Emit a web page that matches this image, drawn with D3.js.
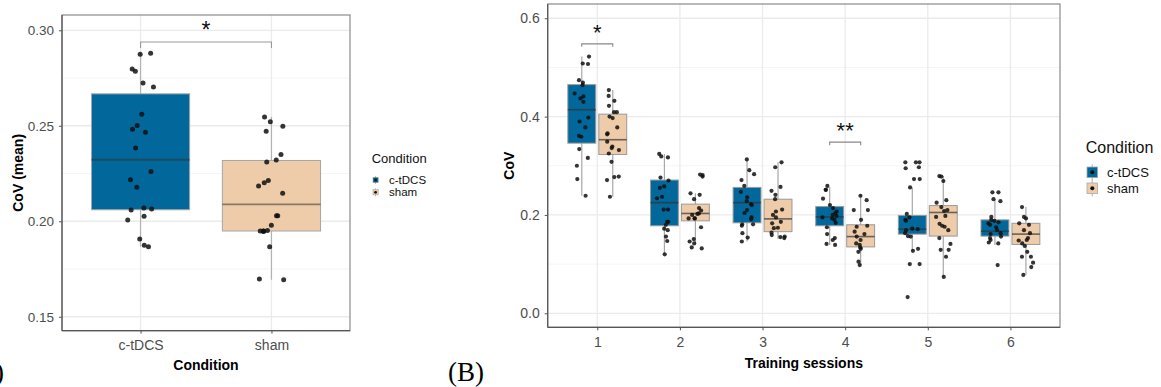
<!DOCTYPE html>
<html><head><meta charset="utf-8">
<script src="https://cdn.jsdelivr.net/npm/d3@7"></script>
<style>body{margin:0;background:#fff}svg{display:block}text{font-family:"Liberation Sans",Arial,sans-serif}</style>
</head><body><svg id="c" width="1161" height="387"></svg>
<script>
// ---------- DATA ----------
const conditions = ["c-tDCS", "sham"];
// Panel A: mean CoV per participant
const leftCategories = ["c-tDCS", "sham"];
const leftCtdcsValues = [0.2874,0.2880,0.2785,0.2797,0.2724,0.2703,0.2560,0.2501,0.2482,0.2466,0.2384,0.2260,0.2218,0.2178,0.2070,0.2059,0.2064,0.2026,0.2007,0.1907,0.1867,0.1874];
const leftShamValues = [0.2546,0.2521,0.2497,0.2471,0.2349,0.2321,0.2310,0.2213,0.2202,0.2185,0.2147,0.2029,0.2029,0.1979,0.1949,0.1948,0.1948,0.1951,0.1949,0.1867,0.1698,0.1694];
const leftYTicks = [0.15, 0.20, 0.25, 0.30];
const leftYMinor = [0.175, 0.225, 0.275];
const leftSignif = "*";

// Panel B: CoV per training session
const sessions = ["1","2","3","4","5","6"];
const rightYTicks = [0.0, 0.2, 0.4, 0.6];
const rightYMinor = [0.1, 0.3, 0.5];
// box statistics
const ctdcsLow    = [0.239,0.120,0.146,0.139,0.127,0.139];
const ctdcsQ1     = [0.346,0.178,0.184,0.178,0.161,0.157];
const ctdcsMedian = [0.414,0.225,0.225,0.196,0.171,0.167];
const ctdcsQ3     = [0.465,0.271,0.256,0.217,0.199,0.190];
const ctdcsHigh   = [0.522,0.324,0.313,0.257,0.256,0.232];
const shamLow     = [0.237,0.142,0.151,0.098,0.074,0.078];
const shamQ1      = [0.323,0.188,0.166,0.135,0.157,0.140];
const shamMedian  = [0.353,0.203,0.192,0.156,0.205,0.161];
const shamQ3      = [0.405,0.222,0.232,0.180,0.219,0.183];
const shamHigh    = [0.454,0.244,0.307,0.241,0.279,0.216];
const ctdcsPoints = [
  [0.522,0.508,0.507,0.474,0.469,0.464,0.447,0.441,0.437,0.430,0.398,0.390,0.378,0.359,0.361,0.334,0.316,0.300,0.273,0.239],
  [0.317,0.324,0.319,0.276,0.270,0.255,0.258,0.234,0.237,0.211,0.211,0.186,0.186,0.180,0.169,0.172,0.156,0.147,0.120],
  [0.313,0.291,0.283,0.271,0.259,0.247,0.236,0.228,0.222,0.220,0.210,0.204,0.195,0.191,0.181,0.181,0.178,0.163,0.154,0.146],
  [0.251,0.251,0.259,0.233,0.220,0.214,0.207,0.203,0.200,0.198,0.195,0.193,0.190,0.184,0.175,0.161,0.153,0.149,0.139,0.141],
  [0.307,0.307,0.307,0.297,0.295,0.273,0.273,0.256,0.202,0.190,0.188,0.195,0.171,0.169,0.172,0.163,0.156,0.157,0.131,0.127,0.100,0.100,0.033],
  [0.246,0.246,0.232,0.228,0.196,0.190,0.188,0.185,0.183,0.180,0.175,0.169,0.163,0.161,0.156,0.153,0.144,0.142,0.149,0.098]
];
const shamPoints = [
  [0.454,0.442,0.432,0.422,0.409,0.409,0.400,0.397,0.378,0.366,0.364,0.349,0.336,0.332,0.339,0.325,0.308,0.278,0.277,0.271,0.237],
  [0.281,0.282,0.278,0.244,0.241,0.232,0.214,0.209,0.203,0.200,0.202,0.193,0.193,0.193,0.175,0.151,0.146,0.142,0.132,0.134],
  [0.307,0.297,0.257,0.249,0.241,0.232,0.211,0.207,0.200,0.195,0.186,0.183,0.174,0.173,0.164,0.159,0.155,0.153,0.156],
  [0.239,0.230,0.210,0.210,0.190,0.178,0.176,0.161,0.166,0.149,0.142,0.139,0.131,0.125,0.134,0.156,0.105,0.098],
  [0.279,0.278,0.269,0.230,0.225,0.216,0.210,0.208,0.196,0.198,0.182,0.178,0.176,0.169,0.153,0.141,0.129,0.129,0.115,0.074],
  [0.216,0.196,0.193,0.180,0.183,0.169,0.163,0.149,0.148,0.153,0.142,0.137,0.125,0.115,0.115,0.103,0.094,0.078]
];
// significance brackets in panel B: [session index, label]
const rightSignif = [[0, "*"], [3, "**"]];

// ---------- STYLE ----------
const fillColor = {"c-tDCS": "#02679a", "sham": "#eecba9"};
const gridMajor = "#ebebeb", gridMinor = "#f5f5f5";
const svg = d3.select("#c");

function styleAxis(g, fs) {
  g.select(".domain").remove();
  g.selectAll(".tick line").attr("stroke", "#555");
  g.selectAll(".tick text").attr("fill", "#4d4d4d").style("font-size", fs + "px");
}

// ---------- PANEL A ----------
(function () {
  const L = 62, R = 350, T = 15, B = 330.7;
  const x = d3.scalePoint().domain(leftCategories).range([L, R]).padding(0.6);
  const y = d3.scaleLinear().domain([0.1427, 0.308]).range([B, T]);
  const step = x.step();
  const g = svg.append("g");
  g.selectAll(".gmin").data(leftYMinor).join("line").attr("x1", L).attr("x2", R)
    .attr("y1", d => y(d)).attr("y2", d => y(d)).attr("stroke", gridMinor).attr("stroke-width", 1);
  g.selectAll(".gmaj").data(leftYTicks).join("line").attr("x1", L).attr("x2", R)
    .attr("y1", d => y(d)).attr("y2", d => y(d)).attr("stroke", gridMajor).attr("stroke-width", 1.3);
  g.selectAll(".gv").data(leftCategories).join("line").attr("y1", T).attr("y2", B)
    .attr("x1", d => x(d)).attr("x2", d => x(d)).attr("stroke", gridMajor).attr("stroke-width", 1.3);

  const groups = [leftCtdcsValues, leftShamValues];
  const bw = step * 0.75;
  groups.forEach((vals, i) => {
    const cat = leftCategories[i];
    const s = vals.slice().sort(d3.ascending);
    const q1 = d3.quantile(s, 0.25), med = d3.quantile(s, 0.5), q3 = d3.quantile(s, 0.75);
    const iqr = q3 - q1;
    const lo = d3.min(s.filter(v => v >= q1 - 1.5 * iqr));
    const hi = d3.max(s.filter(v => v <= q3 + 1.5 * iqr));
    const cx = x(cat);
    g.append("line").attr("x1", cx).attr("x2", cx).attr("y1", y(hi)).attr("y2", y(q3)).attr("stroke", "#b3b3b3").attr("stroke-width", 1.2);
    g.append("line").attr("x1", cx).attr("x2", cx).attr("y1", y(q1)).attr("y2", y(lo)).attr("stroke", "#b3b3b3").attr("stroke-width", 1.2);
    g.append("rect").attr("x", cx - bw / 2).attr("width", bw).attr("y", y(q3)).attr("height", y(q1) - y(q3))
      .attr("fill", fillColor[cat]).attr("stroke", "#a6a6a6").attr("stroke-width", 1);
    g.append("line").attr("x1", cx - bw / 2).attr("x2", cx + bw / 2).attr("y1", y(med)).attr("y2", y(med))
      .attr("stroke", "#333").attr("stroke-opacity", 0.55).attr("stroke-width", 1.8);
    const rnd = d3.randomUniform.source(d3.randomLcg(0.13 + i * 0.31))(-0.1 * step, 0.1 * step);
    g.selectAll(null).data(vals).join("circle").attr("cx", () => cx + rnd()).attr("cy", d => y(d))
      .attr("r", 2.5).attr("fill", "#111").attr("fill-opacity", 0.85);
  });
  const x1 = x(leftCategories[0]), x2 = x(leftCategories[1]);
  const by = 42;
  g.append("path").attr("d", `M${x1},${by + 6}V${by}H${x2}V${by + 6}`).attr("fill", "none").attr("stroke", "#999").attr("stroke-width", 1.1);
  g.append("text").attr("x", (x1 + x2) / 2).attr("y", 38).attr("text-anchor", "middle").style("font-size", "23px").attr("fill", "#111").text(leftSignif);

  g.append("rect").attr("x", L).attr("y", T).attr("width", R - L).attr("height", B - T).attr("fill", "none").attr("stroke", "#8a8a8a").attr("stroke-width", 1.2);
  g.append("line").attr("x1", L).attr("x2", L).attr("y1", T).attr("y2", B).attr("stroke", "#555").attr("stroke-width", 1.2);
  g.append("line").attr("x1", L).attr("x2", R).attr("y1", B).attr("y2", B).attr("stroke", "#555").attr("stroke-width", 1.2);
  const ya = g.append("g").attr("transform", `translate(${L},0)`).call(d3.axisLeft(y).tickValues(leftYTicks).tickFormat(d3.format(".2f")).tickSize(3).tickPadding(5));
  styleAxis(ya, 13.5);
  const xa = g.append("g").attr("transform", `translate(0,${B})`).call(d3.axisBottom(x).tickSize(3).tickPadding(6));
  styleAxis(xa, 14);
  g.append("text").attr("x", (L + R) / 2).attr("y", 370).attr("text-anchor", "middle").style("font-size", "14px").style("font-weight", "bold").text("Condition");
  g.append("text").attr("transform", `translate(23,${(T + B) / 2}) rotate(-90)`).attr("text-anchor", "middle").style("font-size", "14px").style("font-weight", "bold").text("CoV (mean)");
  const lg = g.append("g");
  lg.append("text").attr("x", 371.7).attr("y", 163).style("font-size", "13px").attr("fill", "#111").text("Condition");
  conditions.forEach((c, i) => {
    const cy = 180 + i * 12.3;
    lg.append("line").attr("x1", 375.5).attr("x2", 375.5).attr("y1", cy - 4).attr("y2", cy + 4).attr("stroke", "#aaa").attr("stroke-width", 0.8);
    lg.append("rect").attr("x", 373).attr("y", cy - 2.6).attr("width", 5.2).attr("height", 5.2).attr("fill", fillColor[c]).attr("stroke", "#999").attr("stroke-width", 0.5);
    lg.append("circle").attr("cx", 375.6).attr("cy", cy).attr("r", 1.4).attr("fill", "#111");
    lg.append("text").attr("x", 389).attr("y", cy + 4).style("font-size", "11.5px").attr("fill", "#111").text(c);
  });
  svg.append("text").attr("x", 4).attr("y", 381).attr("text-anchor", "end").style("font-family", "'Liberation Serif','Times New Roman',serif").style("font-size", "27px").text("(A)");
})();

// ---------- PANEL B ----------
(function () {
  const L = 547.7, R = 1060, T = 4, B = 327.3;
  const x = d3.scalePoint().domain(sessions).range([L, R]).padding(0.6);
  const y = d3.scaleLinear().domain([-0.0285, 0.629]).range([B, T]);
  const step = x.step();
  const dodge = d3.scalePoint().domain(conditions).range([-step * 0.1875, step * 0.1875]);
  const bw = step * 0.375 * 0.9;
  const g = svg.append("g");
  g.selectAll(".gmin").data(rightYMinor).join("line").attr("x1", L).attr("x2", R)
    .attr("y1", d => y(d)).attr("y2", d => y(d)).attr("stroke", gridMinor).attr("stroke-width", 1);
  g.selectAll(".gmaj").data(rightYTicks).join("line").attr("x1", L).attr("x2", R)
    .attr("y1", d => y(d)).attr("y2", d => y(d)).attr("stroke", gridMajor).attr("stroke-width", 1.3);
  g.selectAll(".gv").data(sessions).join("line").attr("y1", T).attr("y2", B)
    .attr("x1", d => x(d)).attr("x2", d => x(d)).attr("stroke", gridMajor).attr("stroke-width", 1.3);

  const stats = {
    "c-tDCS": {lo: ctdcsLow, q1: ctdcsQ1, med: ctdcsMedian, q3: ctdcsQ3, hi: ctdcsHigh, pts: ctdcsPoints},
    "sham": {lo: shamLow, q1: shamQ1, med: shamMedian, q3: shamQ3, hi: shamHigh, pts: shamPoints}
  };
  sessions.forEach((s, si) => {
    conditions.forEach((c, ci) => {
      const st = stats[c];
      const cx = x(s) + dodge(c);
      g.append("line").attr("x1", cx).attr("x2", cx).attr("y1", y(st.hi[si])).attr("y2", y(st.q3[si])).attr("stroke", "#a8a8a8").attr("stroke-width", 1.2);
      g.append("line").attr("x1", cx).attr("x2", cx).attr("y1", y(st.q1[si])).attr("y2", y(st.lo[si])).attr("stroke", "#a8a8a8").attr("stroke-width", 1.2);
      g.append("rect").attr("x", cx - bw / 2).attr("width", bw).attr("y", y(st.q3[si])).attr("height", y(st.q1[si]) - y(st.q3[si]))
        .attr("fill", fillColor[c]).attr("stroke", "#9a9a9a").attr("stroke-width", 1);
      g.append("line").attr("x1", cx - bw / 2).attr("x2", cx + bw / 2).attr("y1", y(st.med[si])).attr("y2", y(st.med[si]))
        .attr("stroke", "#333").attr("stroke-opacity", 0.7).attr("stroke-width", 1.6);
      const rnd = d3.randomUniform.source(d3.randomLcg(0.07 + si * 0.11 + ci * 0.53))(-0.09 * step, 0.09 * step);
      g.selectAll(null).data(st.pts[si]).join("circle").attr("cx", () => cx + rnd()).attr("cy", d => y(d))
        .attr("r", 2.1).attr("fill", "#111").attr("fill-opacity", 0.85);
    });
  });
  const bracketY = [0.548, 0.348];
  const starY = [27, 125];
  rightSignif.forEach(([si, lab], k) => {
    const s = sessions[si];
    const x1 = x(s) + dodge(conditions[0]), x2 = x(s) + dodge(conditions[1]);
    const by = y(bracketY[k]);
    g.append("path").attr("d", `M${x1},${by + 3}V${by}H${x2}V${by + 3}`).attr("fill", "none").attr("stroke", "#888").attr("stroke-width", 1.1);
    g.append("text").attr("x", x(s)).attr("y", starY[k] + 12.5).attr("text-anchor", "middle").style("font-size", "22px").attr("fill", "#111").text(lab);
  });
  g.append("rect").attr("x", L).attr("y", T).attr("width", R - L).attr("height", B - T).attr("fill", "none").attr("stroke", "#8a8a8a").attr("stroke-width", 1.2);
  g.append("line").attr("x1", L).attr("x2", L).attr("y1", T).attr("y2", B).attr("stroke", "#555").attr("stroke-width", 1.2);
  g.append("line").attr("x1", L).attr("x2", R).attr("y1", B).attr("y2", B).attr("stroke", "#555").attr("stroke-width", 1.2);
  const ya = g.append("g").attr("transform", `translate(${L},0)`).call(d3.axisLeft(y).tickValues(rightYTicks).tickFormat(d3.format(".1f")).tickSize(3).tickPadding(5));
  styleAxis(ya, 14);
  const xa = g.append("g").attr("transform", `translate(0,${B})`).call(d3.axisBottom(x).tickSize(3).tickPadding(7));
  styleAxis(xa, 14);
  g.append("text").attr("x", (L + R) / 2).attr("y", 368).attr("text-anchor", "middle").style("font-size", "14px").style("font-weight", "bold").text("Training sessions");
  g.append("text").attr("transform", `translate(514,${(T + B) / 2}) rotate(-90)`).attr("text-anchor", "middle").style("font-size", "14px").style("font-weight", "bold").text("CoV");
  const lg = g.append("g");
  lg.append("text").attr("x", 1085.7).attr("y", 152.5).style("font-size", "16px").attr("fill", "#111").text("Condition");
  conditions.forEach((c, i) => {
    const cy = 172.3 + i * 16;
    lg.append("line").attr("x1", 1092.2).attr("x2", 1092.2).attr("y1", cy - 8).attr("y2", cy + 8).attr("stroke", "#aaa").attr("stroke-width", 1);
    lg.append("rect").attr("x", 1087).attr("y", cy - 5.3).attr("width", 10.6).attr("height", 10.6).attr("fill", fillColor[c]).attr("stroke", "#aaa").attr("stroke-width", 0.8);
    lg.append("circle").attr("cx", 1092.3).attr("cy", cy).attr("r", 2).attr("fill", "#111");
    lg.append("text").attr("x", 1107).attr("y", cy + 4.6).style("font-size", "13px").attr("fill", "#111").text(c);
  });
  svg.append("text").attr("x", 448).attr("y", 381).style("font-family", "'Liberation Serif','Times New Roman',serif").style("font-size", "27px").text("(B)");
})();
</script></body></html>
